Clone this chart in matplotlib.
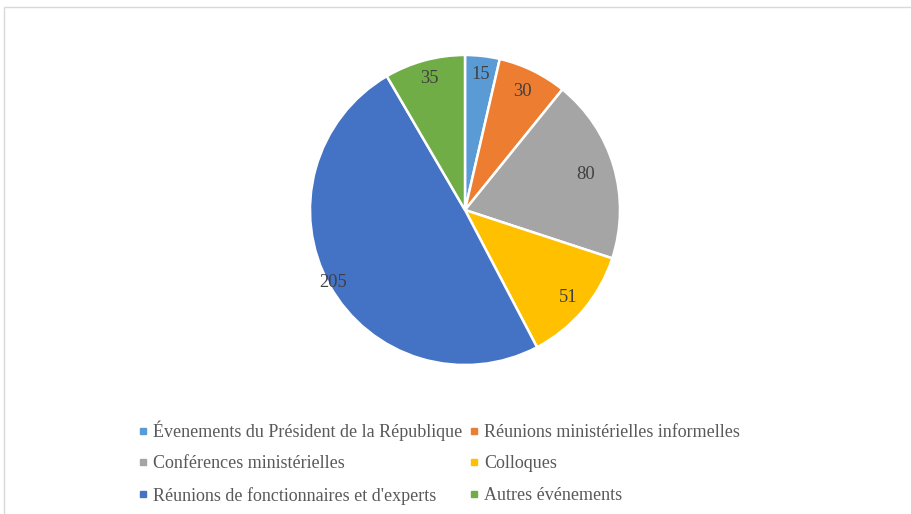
import matplotlib
matplotlib.use("Agg")
import matplotlib.pyplot as plt
from matplotlib.lines import Line2D
from matplotlib.patches import Rectangle
import numpy as np

categories = ["Évenements du Président de la République",
              "Réunions ministérielles informelles",
              "Conférences ministérielles",
              "Colloques",
              "Réunions de fonctionnaires et d'experts",
              "Autres événements"]
values = [15, 30, 80, 51, 205, 35]
colors = ["#5B9BD5", "#ED7D31", "#A5A5A5", "#FFC000", "#4472C4", "#70AD47"]
label_radius = [0.88, 0.85, 0.81, 0.87, 0.97, 0.88]

plt.rcParams['font.family'] = ['Liberation Serif', 'DejaVu Serif']

W, H = 912, 514
fig = plt.figure(figsize=(W / 100, H / 100), dpi=100)

# chart frame
fig.patches.append(Rectangle((4 / W, -0.05), 1.1, (H - 7) / H + 0.05,
                             transform=fig.transFigure, fill=False,
                             edgecolor="#D9D9D9", linewidth=1.0))

cx, cy, r = 465, 210, 155
ax = fig.add_axes([(cx - r) / W, (H - cy - r) / H, 2 * r / W, 2 * r / H])
wedges, _ = ax.pie(values, colors=colors, startangle=90, counterclock=False,
                   wedgeprops=dict(edgecolor="white", linewidth=1.8))
ax.set_xlim(-1, 1)
ax.set_ylim(-1, 1)
ax.set_aspect("equal")

for w, v, lr in zip(wedges, values, label_radius):
    ang = np.deg2rad((w.theta1 + w.theta2) / 2)
    ax.text(lr * np.cos(ang), lr * np.sin(ang), str(v), ha="center", va="center",
            fontsize=13.3, color="#404040")

order = [0, 2, 4, 1, 3, 5]
handles = [Line2D([], [], marker="s", linestyle="none", markersize=5,
                  markerfacecolor=colors[i], markeredgecolor=colors[i]) for i in order]
labels = [categories[i] for i in order]
leg = fig.legend(handles, labels, ncol=2, loc="upper left",
                 bbox_to_anchor=(129.5 / W, 1 - 411.5 / H), frameon=False,
                 fontsize=13, handlelength=0.5, handletextpad=0.3,
                 columnspacing=0.4, labelspacing=0.8, borderpad=0)
for t in leg.get_texts():
    t.set_color("#595959")

fig.savefig("out.png", dpi=100)
